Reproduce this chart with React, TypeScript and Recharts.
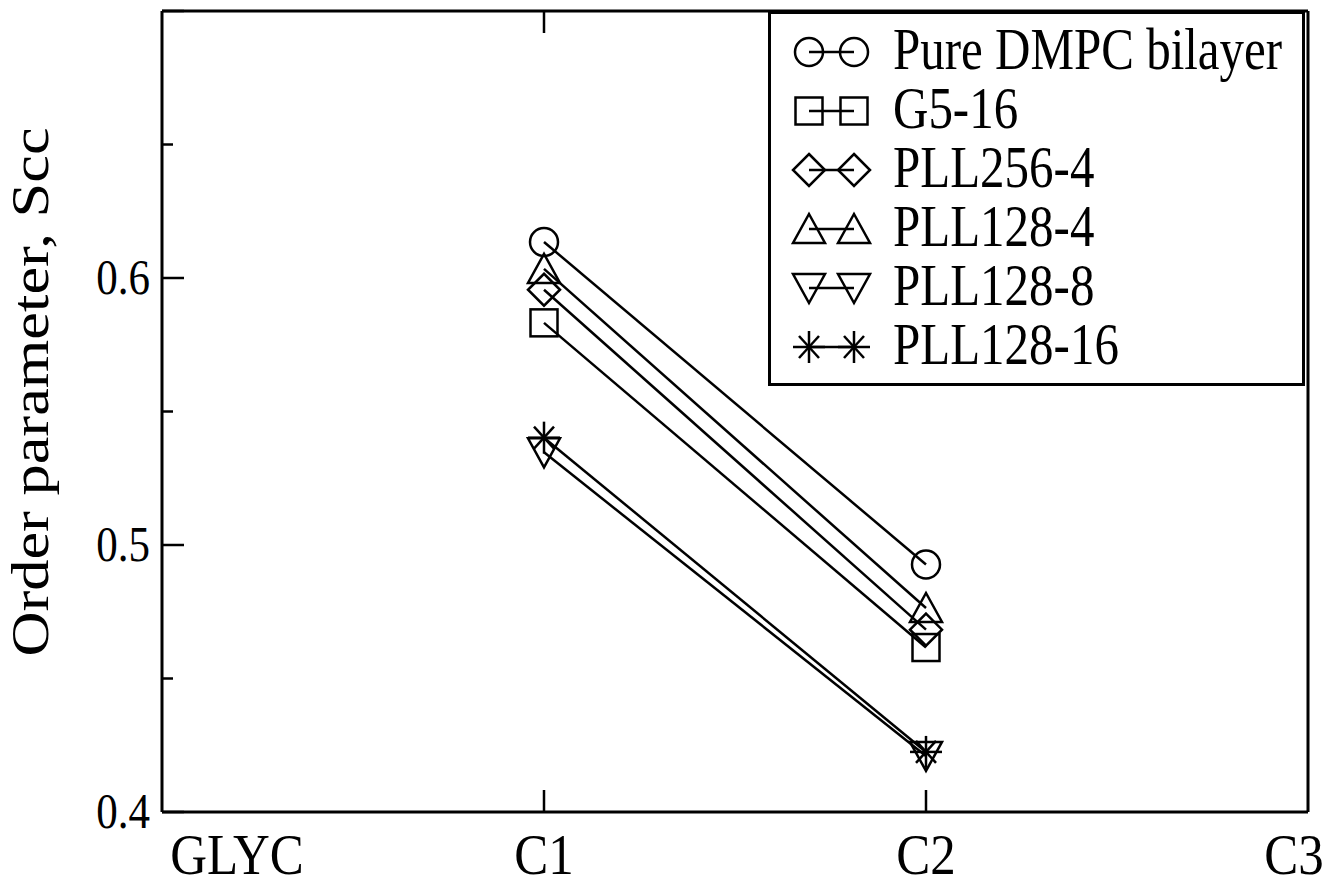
import { Legend, Line, LineChart, ReferenceLine, XAxis, YAxis } from "recharts";

const FONT = '"Liberation Serif", "Times New Roman", serif';

// x positions along the acyl chain
const CATEGORIES = ["GLYC", "C1", "C2", "C3"];

// order parameter Scc per system (only C1 and C2 were measured)
const PURE_DMPC = [null, 0.6135, 0.4927, null];
const G5_16 = [null, 0.5832, 0.4616, null];
const PLL256_4 = [null, 0.5956, 0.4683, null];
const PLL128_4 = [null, 0.6034, 0.4764, null];
const PLL128_8 = [null, 0.5347, 0.421, null];
const PLL128_16 = [null, 0.5402, 0.4225, null];

const Y_DOMAIN = [0.4, 0.7];
const Y_TICKS = [0.4, 0.45, 0.5, 0.55, 0.6, 0.65, 0.7];
const Y_LABELED = ["0.4", "0.5", "0.6"];
const X_TICKS = [0, 1, 2, 3];
const X_INNER_TICKS = [1, 2];

type SymbolKind = "circle" | "square" | "diamond" | "up" | "down" | "star";

const SERIES: { key: string; name: string; symbol: SymbolKind; values: (number | null)[] }[] = [
  { key: "pure", name: "Pure DMPC bilayer", symbol: "circle", values: PURE_DMPC },
  { key: "g516", name: "G5-16", symbol: "square", values: G5_16 },
  { key: "pll2564", name: "PLL256-4", symbol: "diamond", values: PLL256_4 },
  { key: "pll1284", name: "PLL128-4", symbol: "up", values: PLL128_4 },
  { key: "pll1288", name: "PLL128-8", symbol: "down", values: PLL128_8 },
  { key: "pll12816", name: "PLL128-16", symbol: "star", values: PLL128_16 },
];

const data = CATEGORIES.map((cat, i) => {
  const row: Record<string, number | string | null> = { x: i, cat };
  SERIES.forEach((s) => (row[s.key] = s.values[i]));
  return row;
});

const SW = 2.5;
const CHART_W = 1328;
const CHART_H = 888;
const TOP_H = 11;
const BOTTOM_H = 76;
const PLOT_H = CHART_H - TOP_H - BOTTOM_H;
// 22px inward tick at the top frame, in data units
const TOP_TICK_LEN = (22 / PLOT_H) * (Y_DOMAIN[1] - Y_DOMAIN[0]);

function Symbol({ kind, cx, cy }: { kind: SymbolKind; cx: number; cy: number }) {
  const p = { fill: "none", stroke: "#000", strokeWidth: SW };
  switch (kind) {
    case "circle":
      return <circle cx={cx} cy={cy} r={14} {...p} />;
    case "square":
      return <rect x={cx - 13.5} y={cy - 13.5} width={27} height={27} {...p} />;
    case "diamond":
      return <polygon points={`${cx},${cy - 16} ${cx + 16},${cy} ${cx},${cy + 16} ${cx - 16},${cy}`} {...p} />;
    case "up":
      return <polygon points={`${cx},${cy - 15} ${cx + 16},${cy + 14} ${cx - 16},${cy + 14}`} {...p} />;
    case "down":
      return <polygon points={`${cx},${cy + 15} ${cx + 16},${cy - 14} ${cx - 16},${cy - 14}`} {...p} />;
    case "star":
      return (
        <g {...p}>
          <line x1={cx - 16} y1={cy} x2={cx + 16} y2={cy} />
          <line x1={cx} y1={cy - 16} x2={cx} y2={cy + 16} />
          <line x1={cx - 10} y1={cy - 11} x2={cx + 10} y2={cy + 11} />
          <line x1={cx - 10} y1={cy + 11} x2={cx + 10} y2={cy - 11} />
        </g>
      );
  }
}

// edge labels sit a bit inside the frame, as in the original
const LABEL_DX: Record<number, number> = { 0: 75, 3: -14 };

function BottomTick({ x, y, payload }: any) {
  const v = payload.value as number;
  const inner = X_INNER_TICKS.includes(v);
  return (
    <g>
      {inner && <line x1={x} y1={y} x2={x} y2={y - 22} stroke="#000" strokeWidth={SW} />}
      <g transform={`translate(${x + (LABEL_DX[v] ?? 0)},${y + 62}) scale(1,1.12)`}>
        <text textAnchor="middle" fontFamily={FONT} fontSize={51} fill="#000">
          {CATEGORIES[v]}
        </text>
      </g>
    </g>
  );
}

function LeftTick({ x, y, payload }: any) {
  const label = (payload.value as number).toFixed(1);
  const major = Math.round(payload.value * 100) % 10 === 0;
  const showLabel = major && Y_LABELED.includes(label);
  return (
    <g>
      <line x1={x} y1={y} x2={x + (major ? 22 : 11)} y2={y} stroke="#000" strokeWidth={SW} />
      {showLabel && (
        <g transform={`translate(${x - 12},${y + 16}) scale(1,1.2)`}>
          <text textAnchor="end" fontFamily={FONT} fontSize={43} fill="#000">
            {label}
          </text>
        </g>
      )}
    </g>
  );
}

function RightTick({ x, y, payload }: any) {
  const major = Math.round(payload.value * 100) % 10 === 0;
  return <line x1={x} y1={y} x2={x - (major ? 22 : 11)} y2={y} stroke="#000" strokeWidth={SW} />;
}

const renderDot = (kind: SymbolKind) => (props: any) => {
  const { cx, cy, index } = props;
  if (cx == null || cy == null || props.value == null) return <g key={index} />;
  return (
    <g key={index}>
      <Symbol kind={kind} cx={cx} cy={cy} />
    </g>
  );
};

const renderLegend = () => (
  <svg width={537} height={375} style={{ display: "block" }}>
    <rect x={1.5} y={1.5} width={534} height={372} fill="#fff" stroke="#000" strokeWidth={3} />
    {SERIES.map((s, i) => {
      const cy = 41 + i * 59;
      return (
        <g key={s.key}>
          <line x1={41} y1={cy} x2={86} y2={cy} stroke="#000" strokeWidth={SW} />
          <Symbol kind={s.symbol} cx={41} cy={cy} />
          <Symbol kind={s.symbol} cx={86} cy={cy} />
          <g transform={`translate(125,${cy + 17}) scale(1,1.2)`}>
            <text fontFamily={FONT} fontSize={49} fill="#000">
              {s.name}
            </text>
          </g>
        </g>
      );
    })}
  </svg>
);

const yLabel = () => (
  <g transform="translate(48,392) rotate(-90) scale(1.2,1)">
    <text textAnchor="middle" fontFamily={FONT} fontSize={52} fill="#000">
      Order parameter, Scc
    </text>
  </g>
);

export default function App() {
  return (
    <div style={{ position: "absolute", left: 0, top: 0, background: "#fff" }}>
      <LineChart width={CHART_W} height={CHART_H} data={data} margin={{ top: 0, right: 0, bottom: 0, left: 0 }}>
        <XAxis
          dataKey="x"
          type="number"
          domain={[0, 3]}
          ticks={X_TICKS}
          height={BOTTOM_H}
          tickSize={0}
          tickMargin={0}
          tickLine={false}
          tick={<BottomTick />}
          axisLine={{ stroke: "#000", strokeWidth: 3 }}
          interval={0}
        />
        <XAxis
          xAxisId="top"
          dataKey="x"
          type="number"
          domain={[0, 3]}
          orientation="top"
          height={TOP_H}
          tick={false}
          tickLine={false}
          axisLine={{ stroke: "#000", strokeWidth: 3 }}
        />
        <YAxis
          type="number"
          domain={Y_DOMAIN}
          ticks={Y_TICKS}
          width={162}
          tickSize={0}
          tickMargin={0}
          tickLine={false}
          tick={<LeftTick />}
          axisLine={{ stroke: "#000", strokeWidth: 3 }}
          interval={0}
          label={{ content: yLabel }}
        />
        <YAxis
          yAxisId="right"
          orientation="right"
          type="number"
          domain={Y_DOMAIN}
          ticks={Y_TICKS}
          width={20}
          tickSize={0}
          tickMargin={0}
          tickLine={false}
          tick={<RightTick />}
          axisLine={{ stroke: "#000", strokeWidth: 3 }}
          interval={0}
        />
        {X_INNER_TICKS.map((t) => (
          <ReferenceLine
            key={t}
            segment={[
              { x: t, y: Y_DOMAIN[1] },
              { x: t, y: Y_DOMAIN[1] - TOP_TICK_LEN },
            ]}
            stroke="#000"
            strokeWidth={SW}
            ifOverflow="visible"
          />
        ))}
        {SERIES.map((s) => (
          <Line
            key={s.key}
            dataKey={s.key}
            name={s.name}
            stroke="#000"
            strokeWidth={SW}
            dot={renderDot(s.symbol)}
            activeDot={false}
            connectNulls={false}
            isAnimationActive={false}
          />
        ))}
        <Legend
          layout="vertical"
          verticalAlign="middle"
          align="center"
          content={renderLegend}
          wrapperStyle={{ left: 768, top: TOP_H, width: 537, height: 375 }}
        />
      </LineChart>
    </div>
  );
}
